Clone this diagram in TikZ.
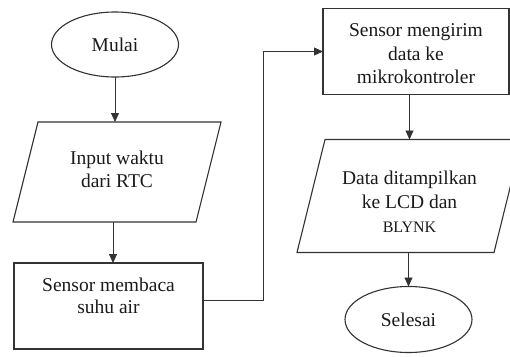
\documentclass[tikz,border=0pt]{standalone}
\usepackage{fontspec}
\setmainfont{Liberation Serif}
\usetikzlibrary{arrows.meta,positioning,shapes.geometric}
\definecolor{ink}{HTML}{1A1A1A}
\definecolor{edge}{HTML}{333333}

\begin{document}
\begin{tikzpicture}[
  x=1pt,y=1pt,
  outline/.style={draw=edge,line width=1.1pt},
  base/.style={outline,fill=white,text=ink,font=\fontsize{19.5}{23}\selectfont,align=center,inner sep=0pt,outer sep=0pt,text depth=0pt},
  term/.style={base,ellipse,minimum width=127pt,minimum height=65pt},
  % parallelogram: body rectangle, top edge pushed right and bottom edge left by #1
  io/.style={base,draw=none,fill=none,append after command={\pgfextra{\draw[outline]
    ([xshift=#1]\tikzlastnode.north west) -- ([xshift=#1]\tikzlastnode.north east) --
    ([xshift=-#1]\tikzlastnode.south east) -- ([xshift=-#1]\tikzlastnode.south west) -- cycle;}}},
  proc/.style={base,rectangle,minimum height=86pt},
  arr/.style={-{Triangle[length=9pt,width=8pt]},color=edge,line width=0.8pt}]
  \useasboundingbox (0,0) rectangle (510,-356);
  \clip (0,0) rectangle (510,-356);
  % left column
  \node[term] (start) at (115,-44.5) {Mulai};
  \node[io=12.5pt,minimum width=183pt,minimum height=100pt,text height=30pt,below=45pt of start,xshift=2pt] (input) {Input waktu\\dari RTC};
  \node[proc,minimum width=189pt,font=\fontsize{19.5}{22}\selectfont,text height=15pt,below=41pt of input,xshift=-8.5pt] (read) {Sensor membaca\\suhu air};
  % right column
  \node[proc,minimum width=186pt,font=\fontsize{19.5}{23.5}\selectfont,text height=64pt] (send) at (416,-51.5) {Sensor mengirim\\data ke\\mikrokontroler};
  \node[io=14pt,minimum width=197pt,minimum height=113pt,font=\fontsize{19.5}{24}\selectfont,text height=73pt,below=45pt of send,xshift=-6.5pt] (show) {Data ditampilkan\\ke LCD dan\\{\fontsize{16}{24}\selectfont BLYNK}};
  \node[term,minimum height=66pt,below=34pt of show,xshift=-1pt] (stop) {Selesai};
  % connectors
  \draw[arr] (start) -- (start |- input.north);
  \draw[arr] ([xshift=-4pt]input.south) -- ([xshift=-4pt]input.south |- read.north);
  \draw[arr] ([yshift=6pt]read.east) -- ++(60,0) |- (send.west);
  \draw[arr] (send.south -| show.north) -- (show.north);
  \draw[arr] (show.south -| stop.north) -- (stop.north);
\end{tikzpicture}
\end{document}
